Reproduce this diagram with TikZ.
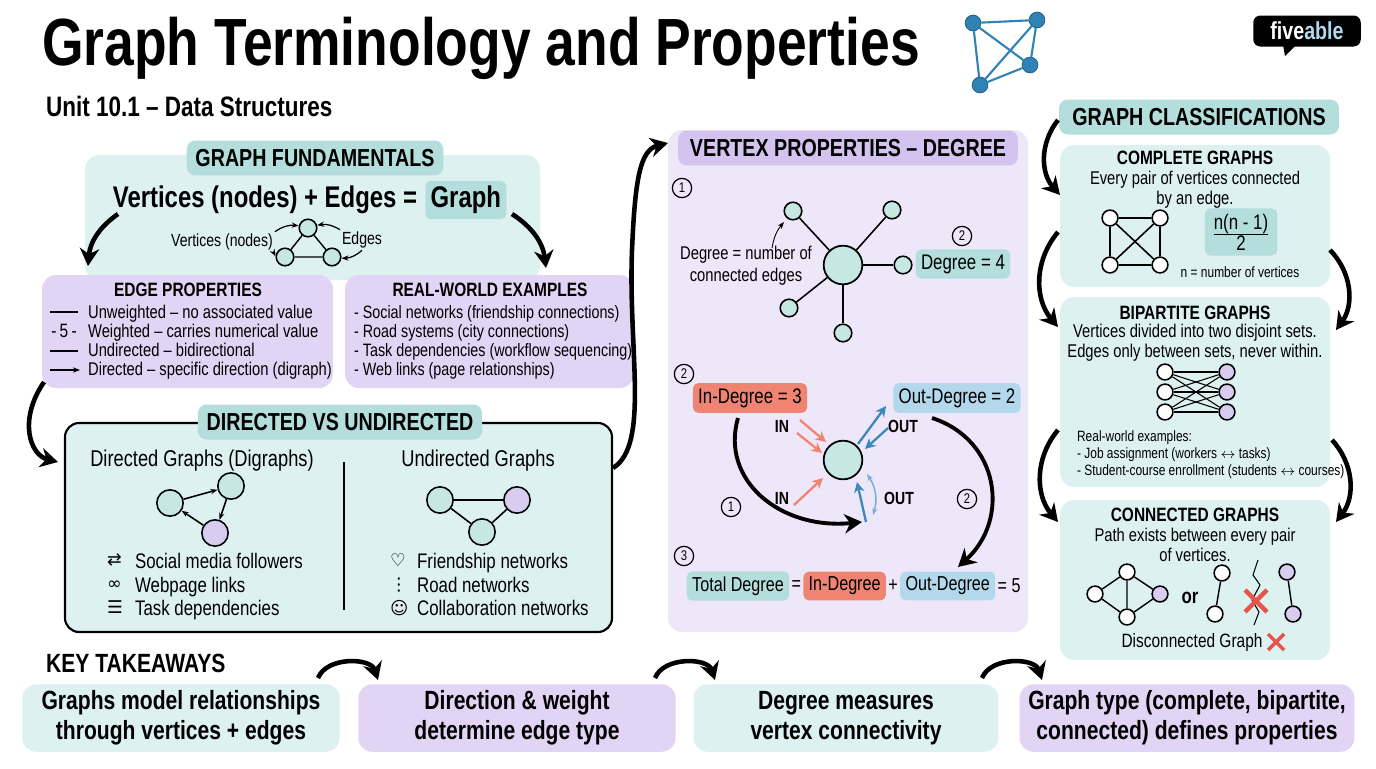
\documentclass[tikz,border=0pt]{standalone}
\usepackage{fontspec}
\setmainfont{Liberation Sans}[FakeStretch=0.8]
\newfontfamily\symfont{DejaVu Sans}
\usetikzlibrary{arrows.meta,positioning}

\definecolor{tealbg}{HTML}{DDF1F0}
\definecolor{tealhd}{HTML}{B4DEDC}
\definecolor{nodefill}{HTML}{C7E7E2}
\definecolor{purbg}{HTML}{E2D4F4}
\definecolor{purlt}{HTML}{EEE7FA}
\definecolor{purhd}{HTML}{D5C3EF}
\definecolor{purnode}{HTML}{D8CCF0}
\definecolor{inred}{HTML}{F08472}
\definecolor{outblue}{HTML}{B3D8EC}
\definecolor{arrblue}{HTML}{3A88BC}
\definecolor{xred}{HTML}{E5554A}
\definecolor{logoblue}{HTML}{2F82B5}

\tikzset{
  panel/.style={rounded corners=8pt, fill=#1, draw=none},
  header/.style={rounded corners=5pt, fill=#1, font=\bfseries\fontsize{14}{16}\selectfont, inner sep=5pt},
  vtx/.style={circle, draw, line width=0.9pt, fill=#1, minimum size=12pt, inner sep=0pt},
  vtx/.default=nodefill,
  bigarrow/.style={line width=2.6pt, -{Stealth[length=10pt,width=11pt]}},
  thinarrow/.style={line width=0.7pt, -{Stealth[length=4pt]}},
  body/.style={font=\fontsize{10}{11.5}\selectfont, align=left, inner sep=1pt},
  num/.style={circle, draw, line width=0.7pt, inner sep=0.5pt, minimum size=11pt, font=\fontsize{8}{8}\selectfont},
  hl/.style={fill=#1, rounded corners=3pt, inner sep=3pt},
  take/.style={rounded corners=8pt, fill=#1, font=\fontsize{15}{17}\selectfont\bfseries, align=center},
}

\begin{document}
\begin{tikzpicture}[x=0.02cm, y=-0.02cm]
  \useasboundingbox[fill=white] (0,0) rectangle (1376,768);

  % Title
  \node[anchor=west, font=\bfseries\fontsize{38}{40}\selectfont] (title) at (36,48) {Graph Terminology and Properties};
  \node[anchor=west, font=\bfseries\fontsize{16}{19}\selectfont] (unit) at (40,106) {Unit 10.1 -- Data Structures};
  \foreach \n/\p in {a/{(973,23)},b/{(1037,20)},c/{(1030,65)},d/{(980,85)}}
    \node[circle, draw=logoblue!70!black, fill=logoblue, minimum size=9pt, inner sep=0pt] (t\n) at \p {};
  \draw[logoblue, line width=1.2pt] (ta) -- (tb) -- (tc) -- (td) -- (ta) -- (tc) (tb) -- (td);
  \node[fill=black, text=white, rounded corners=4pt, font=\bfseries\fontsize{14}{14}\selectfont, minimum width=2.15cm, minimum height=0.62cm] (logo) at (1307,31) {five\textcolor{outblue}{able}};
  \fill (1283,45) -- (1296,45) -- (1285,56) -- cycle;

  % Graph fundamentals
  \fill[panel=tealbg] (85,155) rectangle (540,280);
  \node[header=tealhd] (fund) at (315,158) {GRAPH FUNDAMENTALS};
  \node[font=\bfseries\fontsize{17}{20}\selectfont] (eq) at (265,200) {Vertices (nodes) + Edges =};
  \node[font=\bfseries\fontsize{17}{20}\selectfont, hl=tealhd, right=1pt of eq] (graph) {Graph};
  \node[vtx, minimum size=10pt] (f1) at (308,228) {};
  \node[vtx, minimum size=10pt] (f2) at (285,257) {};
  \node[vtx, minimum size=10pt] (f3) at (332,257) {};
  \draw[line width=0.8pt] (f1) -- (f2) -- (f3) -- (f1);
  \node[body] (vlab) at (222,242) {Vertices (nodes)};
  \node[body] (elab) at (362,240) {Edges};
  \draw[thinarrow] (vlab.north east) to[bend left=20] (f1);
  \draw[thinarrow] (vlab.south east) to[bend right=20] (f2);
  \draw[thinarrow] (elab.north west) to[bend right=20] (f1);
  \draw[thinarrow] (elab.south) to[bend left=20] (f3);

  % Edge properties / examples
  \fill[panel=purbg] (42,275) rectangle (333,388);
  \node[font=\bfseries\fontsize{11}{14}\selectfont] (edgep) at (188,290) {EDGE PROPERTIES};
  \node[body, anchor=north west, font=\fontsize{10.5}{10.8}\selectfont] (edget) at (86,303) {Unweighted -- no associated value\\Weighted -- carries numerical value\\Undirected -- bidirectional\\Directed -- specific direction (digraph)};
  \draw[line width=0.8pt] (50,312) -- (78,312) (50,351) -- (78,351);
  \node[body, font=\fontsize{11}{12}\selectfont] (five) at (64,331) {-\,5\,-};
  \draw[thinarrow, line width=0.8pt] (50,370) -- (80,370);
  \fill[panel=purbg] (345,275) rectangle (634,388);
  \node[font=\bfseries\fontsize{11}{14}\selectfont] (realw) at (490,290) {REAL-WORLD EXAMPLES};
  \node[body, anchor=north west, font=\fontsize{10.2}{10.8}\selectfont] (realt) at (352,303) {- Social networks (friendship connections)\\- Road systems (city connections)\\- Task dependencies (workflow sequencing)\\- Web links (page relationships)};
  \coordinate (fl) at (118,214);
  \coordinate (fr) at (512,214);
  \draw[bigarrow] (fl) to[bend right=25] (88,266);
  \draw[bigarrow] (fr) to[bend left=25] (546,268);

  % Directed vs undirected
  \draw[panel=tealbg, draw=black, line width=1.2pt] (65,423) rectangle (612,632);
  \node[header=tealhd] (dvu) at (340,422) {DIRECTED VS UNDIRECTED};
  \node[font=\fontsize{13}{16}\selectfont] (dir) at (202,461) {Directed Graphs (Digraphs)};
  \node[font=\fontsize{13}{16}\selectfont] (und) at (478,461) {Undirected Graphs};
  \draw[line width=0.9pt] (344,462) -- (344,610);
  \node[vtx, minimum size=15pt] (d1) at (170,503) {};
  \node[vtx, minimum size=15pt] (d2) at (231,486) {};
  \node[vtx=purnode, minimum size=15pt] (d3) at (215,533) {};
  \draw[thinarrow, line width=0.9pt] (d1) -- (d2);
  \draw[thinarrow, line width=0.9pt] (d2) -- (d3);
  \draw[thinarrow, line width=0.9pt] (d3) -- (d1);
  \node[vtx, minimum size=15pt] (u1) at (440,500) {};
  \node[vtx=purnode, minimum size=15pt] (u2) at (517,500) {};
  \node[vtx, minimum size=15pt] (u3) at (482,532) {};
  \draw[line width=0.9pt] (u1) -- (u2) -- (u3) -- (u1);
  \node[body, anchor=north west, font=\symfont\fontsize{10}{13.5}\selectfont] (dicon) at (105,552) {⇄\\∞\\☰};
  \node[body, anchor=north west, font=\fontsize{12}{13.5}\selectfont] (dlist) at (133,551) {Social media followers\\Webpage links\\Task dependencies};
  \node[body, anchor=north west, font=\symfont\fontsize{10}{13.5}\selectfont] (uicon) at (388,552) {♡\\⋮\\☺};
  \node[body, anchor=north west, font=\fontsize{12}{13.5}\selectfont] (ulist) at (415,551) {Friendship networks\\Road networks\\Collaboration networks};
  \coordinate (ep) at (44,382);
  \draw[bigarrow] (ep) .. controls (18,420) and (30,455) .. (58,462);
  \coordinate (dv) at (613,468);
  \draw[bigarrow] (dv) .. controls (650,445) and (628,350) .. (632,250) .. controls (635,180) and (640,150) .. (668,143);

  % Vertex properties
  \fill[panel=purlt] (668,130) rectangle (1028,632);
  \node[header=purhd, minimum width=6.8cm] (vp) at (848,148) {VERTEX PROPERTIES -- DEGREE};
  \node[num] (n1) at (682,188) {1};
  \node[vtx, minimum size=22pt, line width=1pt] (c) at (843,265) {};
  \foreach \i/\p in {1/{(793,211)},2/{(892,210)},3/{(903,265)},4/{(789,308)},5/{(843,333)}} {
    \node[vtx, minimum size=10pt] (l\i) at \p {};
    \draw[line width=0.9pt] (c) -- (l\i);
  }
  \node[body, align=center, font=\fontsize{10.5}{12.5}\selectfont] (deg) at (746,266) {Degree = number of\\connected edges};
  \draw[thinarrow, line width=0.5pt] (772,248) to[bend left=15] (784,222);
  \node[num] (n2a) at (962,236) {2};
  \node[hl=tealhd, font=\fontsize{12}{15}\selectfont] (deg4) at (963,264) {Degree = 4};

  \node[num] (n2b) at (684,374) {2};
  \node[hl=inred, font=\fontsize{12}{15}\selectfont] (indeg) at (750,398) {In-Degree = 3};
  \node[hl=outblue, font=\fontsize{12}{15}\selectfont] (outdeg) at (957,398) {Out-Degree = 2};
  \node[vtx, minimum size=22pt, line width=1pt] (cc) at (843,460) {};
  \node[body, font=\bfseries\fontsize{10}{12}\selectfont] (in1) at (782,426) {IN};
  \node[body, font=\bfseries\fontsize{10}{12}\selectfont] (in2) at (782,498) {IN};
  \node[body, font=\bfseries\fontsize{10}{12}\selectfont] (out1) at (903,426) {OUT};
  \node[body, font=\bfseries\fontsize{10}{12}\selectfont] (out2) at (899,498) {OUT};
  \begin{scope}[line width=1.3pt, -{Stealth[length=6pt,width=6pt]}]
    \draw[inred] (800,420) -- (826,442);
    \draw[inred] (797,433) -- (822,453);
    \draw[inred] (794,505) -- (823,478);
    \draw[arrblue] (858,444) -- (886,406);
    \draw[arrblue] (888,428) -- (865,449);
    \draw[arrblue] (866,522) -- (857,482);
  \end{scope}
  \draw[arrblue!70, line width=0.8pt, {Stealth[length=4pt]}-{Stealth[length=4pt]}] (867,474) to[bend left=25] (873,515);
  \draw[bigarrow, line width=2.2pt] (738,418) .. controls (720,480) and (780,530) .. (862,522);
  \node[num] (n1b) at (731,507) {1};
  \draw[bigarrow, line width=2.2pt] (932,418) .. controls (1000,440) and (1010,520) .. (958,567);
  \node[num] (n2c) at (967,499) {2};
  \node[num] (n3) at (684,556) {3};
  \node[hl=tealhd, font=\fontsize{11.5}{15}\selectfont] (tot) at (738,586) {Total Degree};
  \node[font=\fontsize{11.5}{15}\selectfont, right=0pt of tot, inner sep=1pt] (eq1) {=};
  \node[hl=inred, font=\fontsize{11.5}{15}\selectfont, right=0pt of eq1] (indeg2) {In-Degree};
  \node[font=\fontsize{11.5}{15}\selectfont, right=0pt of indeg2, inner sep=1pt] (plus) {+};
  \node[hl=outblue, font=\fontsize{11.5}{15}\selectfont, right=0pt of plus] (outdeg2) {Out-Degree};
  \node[font=\fontsize{11.5}{15}\selectfont, right=0pt of outdeg2, inner sep=1pt] (eq5) {= 5};

  % Graph classifications
  \node[header=tealhd, minimum width=5.6cm, minimum height=0.7cm] (gc) at (1199,117) {GRAPH CLASSIFICATIONS};
  \fill[panel=tealbg] (1060,145) rectangle (1330,287);
  \node[font=\bfseries\fontsize{11}{14}\selectfont] (comp) at (1195,158) {COMPLETE GRAPHS};
  \node[body, align=center, font=\fontsize{10.5}{11.5}\selectfont] (compt) at (1195,190) {Every pair of vertices connected\\by an edge.};
  \node[vtx=white, minimum size=9pt] (k1) at (1110,218) {};
  \node[vtx=white, minimum size=9pt] (k2) at (1160,218) {};
  \node[vtx=white, minimum size=9pt] (k3) at (1110,265) {};
  \node[vtx=white, minimum size=9pt] (k4) at (1160,265) {};
  \draw[line width=0.9pt] (k1) -- (k2) -- (k4) -- (k3) -- (k1) -- (k4) (k2) -- (k3);
  \node[hl=tealhd, font=\fontsize{12}{15}\selectfont, minimum width=1.45cm, minimum height=0.8cm] (frac) at (1241,232) {$\frac{\mbox{n(n - 1)}}{\mbox{2}}$};
  \node[body, font=\fontsize{8.5}{10}\selectfont] (nlab) at (1240,272) {n = number of vertices};

  \fill[panel=tealbg] (1060,297) rectangle (1330,487);
  \node[font=\bfseries\fontsize{11}{14}\selectfont] (bip) at (1195,313) {BIPARTITE GRAPHS};
  \node[body, align=center, font=\fontsize{10.5}{11.5}\selectfont] (bipt) at (1195,343) {Vertices divided into two disjoint sets.\\Edges only between sets, never within.};
  \foreach \i/\yy in {1/372,2/392,3/412} {
    \node[vtx=white, minimum size=9pt] (bl\i) at (1165,\yy) {};
    \node[vtx=purnode, minimum size=9pt] (br\i) at (1227,\yy) {};
  }
  \foreach \i in {1,2,3} \foreach \j in {1,2,3} \draw[line width=0.6pt] (bl\i) -- (br\j);
  \node[body, anchor=north west, font=\fontsize{8.5}{9.5}\selectfont] (bipe) at (1075,429) {Real-world examples:\\- Job assignment (workers $\leftrightarrow$ tasks)\\- Student-course enrollment (students $\leftrightarrow$ courses)};

  \fill[panel=tealbg] (1060,500) rectangle (1330,660);
  \node[font=\bfseries\fontsize{11}{14}\selectfont] (conn) at (1195,515) {CONNECTED GRAPHS};
  \node[body, align=center, font=\fontsize{10.5}{11.5}\selectfont] (connt) at (1195,545) {Path exists between every pair\\of vertices.};
  \node[vtx=white, minimum size=9pt] (g1) at (1095,594) {};
  \node[vtx=white, minimum size=9pt] (g2) at (1127,572) {};
  \node[vtx=white, minimum size=9pt] (g3) at (1127,617) {};
  \node[vtx=purnode, minimum size=9pt] (g4) at (1160,594) {};
  \draw[line width=0.8pt] (g1) -- (g2) -- (g4) -- (g3) -- (g1) (g2) -- (g3);
  \node[font=\bfseries\fontsize{12}{15}\selectfont] (or) at (1190,598) {or};
  \node[vtx=white, minimum size=9pt] (h1) at (1222,573) {};
  \node[vtx=white, minimum size=9pt] (h2) at (1215,614) {};
  \node[vtx=purnode, minimum size=9pt] (h3) at (1287,572) {};
  \node[vtx=purnode, minimum size=9pt] (h4) at (1293,614) {};
  \draw[line width=0.8pt] (h1) -- (h2) (h3) -- (h4);
  \draw[line width=0.6pt] (1258,560) -- (1253,575) -- (1260,585) -- (1252,600) -- (1259,612) -- (1254,625);
  \draw[xred, line width=2.5pt] (1245,590) -- (1267,612) (1267,590) -- (1245,612);
  \node[font=\fontsize{11}{14}\selectfont] (disc) at (1192,642) {Disconnected Graph};
  \draw[xred, line width=2pt] (1268,634) -- (1284,650) (1284,634) -- (1268,650);

  \coordinate (vc) at (1058,120);
  \draw[bigarrow] (vc) to[bend right=40] (1060,195);
  \draw[bigarrow] (1058,232) to[bend right=40] (1058,327);
  \draw[bigarrow] (1330,250) to[bend left=40] (1336,330);
  \draw[bigarrow] (1058,430) to[bend right=40] (1058,522);
  \draw[bigarrow] (1332,440) to[bend left=40] (1336,522);

  % Key takeaways
  \node[anchor=west, font=\bfseries\fontsize{15}{18}\selectfont] (kt) at (40,663) {KEY TAKEAWAYS};
  \node[take=tealbg, minimum width=6.35cm, minimum height=1.35cm] (t1) at (181,718) {Graphs model relationships\\through vertices + edges};
  \node[take=purbg, minimum width=6.35cm, minimum height=1.35cm] (t2) at (517,718) {Direction \& weight\\determine edge type};
  \node[take=tealbg, minimum width=6.1cm, minimum height=1.35cm] (t3) at (846,718) {Degree measures\\vertex connectivity};
  \node[take=purbg, minimum width=6.7cm, minimum height=1.35cm] (t4) at (1187,718) {Graph type (complete, bipartite,\\connected) defines properties};
  \draw[bigarrow] (318,678) to[bend left=70] (378,680);
  \draw[bigarrow] (655,678) to[bend left=70] (715,680);
  \draw[bigarrow] (982,678) to[bend left=70] (1042,680);
\end{tikzpicture}
\end{document}
